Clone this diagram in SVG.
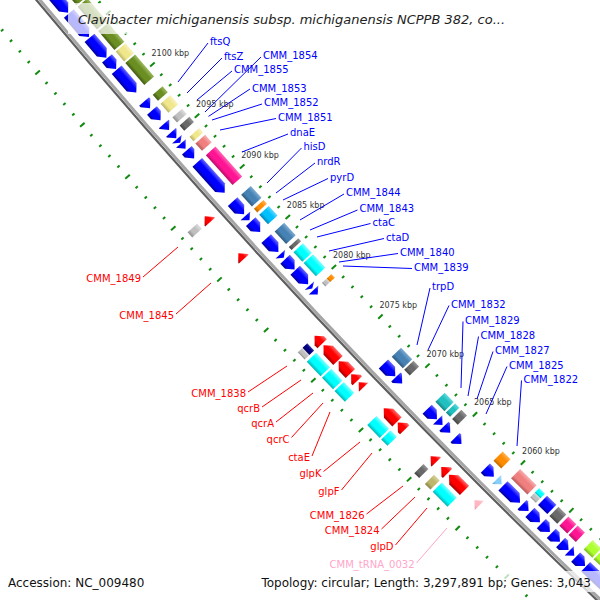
<svg xmlns="http://www.w3.org/2000/svg" xmlns:xlink="http://www.w3.org/1999/xlink" width="600" height="600" viewBox="0 0 600 600">
<defs>
<style>
text{font-family:'DejaVu Sans','Liberation Sans',sans-serif}
.lb{font-size:10px;fill:#0000ff}
.lr{font-size:10px;fill:#ff0000;text-anchor:end}
.lp{font-size:10px;fill:#ffa6c9;text-anchor:end}
.kb{font-size:8px;fill:#333}
.cb{stroke:#0000ff;stroke-width:1;fill:none}
.cr{stroke:#ff0000;stroke-width:1;fill:none}
.cp{stroke:#ffa6c9;stroke-width:1;fill:none}
.tk{fill:#108a10}
.B{fill:url(#gB)}.R{fill:url(#gR)}.Ol{fill:url(#gOl)}.Kh{fill:url(#gKh)}.Lg{fill:url(#gLg)}.Dg{fill:url(#gDg)}
.Sa{fill:url(#gSa)}.Mg{fill:url(#gMg)}.Sb{fill:url(#gSb)}.Or{fill:url(#gOr)}.Ds{fill:url(#gDs)}.Cy{fill:url(#gCy)}
.Nv{fill:url(#gNv)}.Tl{fill:url(#gTl)}.Gy{fill:url(#gGy)}.Dk{fill:url(#gDk)}.Sk{fill:url(#gSk)}.Pk{fill:url(#gPk)}
</style>
<linearGradient id="gB" x1="0" y1="0" x2="0" y2="1"><stop offset="0" stop-color="#00009a"/><stop offset=".3" stop-color="#0000ff"/><stop offset=".65" stop-color="#0000ff"/><stop offset="1" stop-color="#6a6aff"/></linearGradient>
<linearGradient id="gR" x1="0" y1="0" x2="0" y2="1"><stop offset="0" stop-color="#a00000"/><stop offset=".3" stop-color="#ff0000"/><stop offset=".65" stop-color="#ff0000"/><stop offset="1" stop-color="#ff6a6a"/></linearGradient>
<linearGradient id="gOl" x1="0" y1="0" x2="0" y2="1"><stop offset="0" stop-color="#435a15"/><stop offset=".3" stop-color="#6b8e23"/><stop offset=".65" stop-color="#6b8e23"/><stop offset="1" stop-color="#9cba62"/></linearGradient>
<linearGradient id="gKh" x1="0" y1="0" x2="0" y2="1"><stop offset="0" stop-color="#bcb466"/><stop offset=".3" stop-color="#f0e68c"/><stop offset=".65" stop-color="#f0e68c"/><stop offset="1" stop-color="#f8f2c0"/></linearGradient>
<linearGradient id="gLg" x1="0" y1="0" x2="0" y2="1"><stop offset="0" stop-color="#8e8e8e"/><stop offset=".3" stop-color="#c0c0c0"/><stop offset=".65" stop-color="#c0c0c0"/><stop offset="1" stop-color="#e0e0e0"/></linearGradient>
<linearGradient id="gDg" x1="0" y1="0" x2="0" y2="1"><stop offset="0" stop-color="#444"/><stop offset=".3" stop-color="#696969"/><stop offset=".65" stop-color="#696969"/><stop offset="1" stop-color="#969696"/></linearGradient>
<linearGradient id="gSa" x1="0" y1="0" x2="0" y2="1"><stop offset="0" stop-color="#b85a5a"/><stop offset=".3" stop-color="#f08080"/><stop offset=".65" stop-color="#f08080"/><stop offset="1" stop-color="#f7b0b0"/></linearGradient>
<linearGradient id="gMg" x1="0" y1="0" x2="0" y2="1"><stop offset="0" stop-color="#b80e6a"/><stop offset=".3" stop-color="#ff1493"/><stop offset=".65" stop-color="#ff1493"/><stop offset="1" stop-color="#ff66b5"/></linearGradient>
<linearGradient id="gSb" x1="0" y1="0" x2="0" y2="1"><stop offset="0" stop-color="#2f5a7e"/><stop offset=".3" stop-color="#4682b4"/><stop offset=".65" stop-color="#4682b4"/><stop offset="1" stop-color="#80abd0"/></linearGradient>
<linearGradient id="gOr" x1="0" y1="0" x2="0" y2="1"><stop offset="0" stop-color="#c06800"/><stop offset=".3" stop-color="#ff8c00"/><stop offset=".65" stop-color="#ff8c00"/><stop offset="1" stop-color="#ffb050"/></linearGradient>
<linearGradient id="gDs" x1="0" y1="0" x2="0" y2="1"><stop offset="0" stop-color="#0088b8"/><stop offset=".3" stop-color="#00bfff"/><stop offset=".65" stop-color="#00bfff"/><stop offset="1" stop-color="#60d8ff"/></linearGradient>
<linearGradient id="gCy" x1="0" y1="0" x2="0" y2="1"><stop offset="0" stop-color="#00b4b4"/><stop offset=".3" stop-color="#00ffff"/><stop offset=".65" stop-color="#00ffff"/><stop offset="1" stop-color="#80ffff"/></linearGradient>
<linearGradient id="gNv" x1="0" y1="0" x2="0" y2="1"><stop offset="0" stop-color="#000058"/><stop offset=".3" stop-color="#000080"/><stop offset=".65" stop-color="#000080"/><stop offset="1" stop-color="#3838a8"/></linearGradient>
<linearGradient id="gTl" x1="0" y1="0" x2="0" y2="1"><stop offset="0" stop-color="#148484"/><stop offset=".3" stop-color="#20c0c0"/><stop offset=".65" stop-color="#20c0c0"/><stop offset="1" stop-color="#62d8d8"/></linearGradient>
<linearGradient id="gGy" x1="0" y1="0" x2="0" y2="1"><stop offset="0" stop-color="#7cb820"/><stop offset=".3" stop-color="#adff2f"/><stop offset=".65" stop-color="#adff2f"/><stop offset="1" stop-color="#ccff78"/></linearGradient>
<linearGradient id="gDk" x1="0" y1="0" x2="0" y2="1"><stop offset="0" stop-color="#8a854c"/><stop offset=".3" stop-color="#bdb76b"/><stop offset=".65" stop-color="#bdb76b"/><stop offset="1" stop-color="#d6d2a0"/></linearGradient>
<linearGradient id="gSk" x1="0" y1="0" x2="0" y2="1"><stop offset="0" stop-color="#55a0d0"/><stop offset=".3" stop-color="#87cefa"/><stop offset=".65" stop-color="#87cefa"/><stop offset="1" stop-color="#b8e4ff"/></linearGradient>
<linearGradient id="gPk" x1="0" y1="0" x2="0" y2="1"><stop offset="0" stop-color="#e08aa2"/><stop offset=".3" stop-color="#ffb6c1"/><stop offset=".65" stop-color="#ffb6c1"/><stop offset="1" stop-color="#ffd6de"/></linearGradient>
<rect id="di" x="-1" y="-7139.5" width="2" height="3"/>
<rect id="Di" x="-1" y="-7141" width="2" height="6"/>
<rect id="do" x="-1" y="-7232" width="2" height="3"/>
<rect id="Do" x="-1" y="-7233.5" width="2" height="6"/>
</defs>
<rect width="600" height="600" fill="#fff"/>

<g id="ruler" class="tk" transform="translate(5559,-4596)">
<use href="#Di" transform="rotate(223.7808)"/><use href="#di" transform="rotate(223.8899)"/><use href="#di" transform="rotate(223.9991)"/><use href="#di" transform="rotate(224.1083)"/><use href="#di" transform="rotate(224.2174)"/>
<use href="#Di" transform="rotate(224.3266)"/><use href="#di" transform="rotate(224.4357)"/><use href="#di" transform="rotate(224.5449)"/><use href="#di" transform="rotate(224.6541)"/><use href="#di" transform="rotate(224.7632)"/>
<use href="#Di" transform="rotate(224.8724)"/><use href="#di" transform="rotate(224.9816)"/><use href="#di" transform="rotate(225.0907)"/><use href="#di" transform="rotate(225.1999)"/><use href="#di" transform="rotate(225.3090)"/>
<use href="#Di" transform="rotate(225.4182)"/><use href="#di" transform="rotate(225.5274)"/><use href="#di" transform="rotate(225.6365)"/><use href="#di" transform="rotate(225.7457)"/><use href="#di" transform="rotate(225.8549)"/>
<use href="#Di" transform="rotate(225.9640)"/><use href="#di" transform="rotate(226.0732)"/><use href="#di" transform="rotate(226.1823)"/><use href="#di" transform="rotate(226.2915)"/><use href="#di" transform="rotate(226.4007)"/>
<use href="#Di" transform="rotate(226.5098)"/><use href="#di" transform="rotate(226.6190)"/><use href="#di" transform="rotate(226.7282)"/><use href="#di" transform="rotate(226.8373)"/><use href="#di" transform="rotate(226.9465)"/>
<use href="#Di" transform="rotate(227.0556)"/><use href="#di" transform="rotate(227.1648)"/><use href="#di" transform="rotate(227.2740)"/><use href="#di" transform="rotate(227.3831)"/><use href="#di" transform="rotate(227.4923)"/>
<use href="#Di" transform="rotate(227.6015)"/><use href="#di" transform="rotate(227.7106)"/><use href="#di" transform="rotate(227.8198)"/><use href="#di" transform="rotate(227.9289)"/><use href="#di" transform="rotate(228.0381)"/>
<use href="#Di" transform="rotate(228.1473)"/><use href="#di" transform="rotate(228.2564)"/><use href="#di" transform="rotate(228.3656)"/><use href="#di" transform="rotate(228.4748)"/><use href="#di" transform="rotate(228.5839)"/>
<use href="#Di" transform="rotate(228.6931)"/><use href="#di" transform="rotate(228.8022)"/><use href="#di" transform="rotate(228.9114)"/><use href="#di" transform="rotate(229.0206)"/><use href="#di" transform="rotate(229.1297)"/>
<use href="#Di" transform="rotate(229.2389)"/><use href="#di" transform="rotate(229.3481)"/><use href="#di" transform="rotate(229.4572)"/><use href="#di" transform="rotate(229.5664)"/><use href="#di" transform="rotate(229.6755)"/>
<use href="#Di" transform="rotate(229.7847)"/><use href="#di" transform="rotate(229.8939)"/><use href="#di" transform="rotate(230.0030)"/><use href="#di" transform="rotate(230.1122)"/>
<use href="#Do" transform="rotate(223.7808)"/><use href="#do" transform="rotate(223.8899)"/><use href="#do" transform="rotate(223.9991)"/><use href="#do" transform="rotate(224.1083)"/><use href="#do" transform="rotate(224.2174)"/>
<use href="#Do" transform="rotate(224.3266)"/><use href="#do" transform="rotate(224.4357)"/><use href="#do" transform="rotate(224.5449)"/><use href="#do" transform="rotate(224.6541)"/><use href="#do" transform="rotate(224.7632)"/>
<use href="#Do" transform="rotate(224.8724)"/><use href="#do" transform="rotate(224.9816)"/><use href="#do" transform="rotate(225.0907)"/><use href="#do" transform="rotate(225.1999)"/><use href="#do" transform="rotate(225.3090)"/>
<use href="#Do" transform="rotate(225.4182)"/><use href="#do" transform="rotate(225.5274)"/><use href="#do" transform="rotate(225.6365)"/><use href="#do" transform="rotate(225.7457)"/><use href="#do" transform="rotate(225.8549)"/>
<use href="#Do" transform="rotate(225.9640)"/><use href="#do" transform="rotate(226.0732)"/><use href="#do" transform="rotate(226.1823)"/><use href="#do" transform="rotate(226.2915)"/><use href="#do" transform="rotate(226.4007)"/>
<use href="#Do" transform="rotate(226.5098)"/><use href="#do" transform="rotate(226.6190)"/><use href="#do" transform="rotate(226.7282)"/><use href="#do" transform="rotate(226.8373)"/><use href="#do" transform="rotate(226.9465)"/>
<use href="#Do" transform="rotate(227.0556)"/><use href="#do" transform="rotate(227.1648)"/><use href="#do" transform="rotate(227.2740)"/><use href="#do" transform="rotate(227.3831)"/><use href="#do" transform="rotate(227.4923)"/>
<use href="#Do" transform="rotate(227.6015)"/><use href="#do" transform="rotate(227.7106)"/><use href="#do" transform="rotate(227.8198)"/><use href="#do" transform="rotate(227.9289)"/><use href="#do" transform="rotate(228.0381)"/>
<use href="#Do" transform="rotate(228.1473)"/><use href="#do" transform="rotate(228.2564)"/><use href="#do" transform="rotate(228.3656)"/><use href="#do" transform="rotate(228.4748)"/><use href="#do" transform="rotate(228.5839)"/>
<use href="#Do" transform="rotate(228.6931)"/><use href="#do" transform="rotate(228.8022)"/><use href="#do" transform="rotate(228.9114)"/><use href="#do" transform="rotate(229.0206)"/><use href="#do" transform="rotate(229.1297)"/>
<use href="#Do" transform="rotate(229.2389)"/><use href="#do" transform="rotate(229.3481)"/><use href="#do" transform="rotate(229.4572)"/><use href="#do" transform="rotate(229.5664)"/><use href="#do" transform="rotate(229.6755)"/>
<use href="#Do" transform="rotate(229.7847)"/><use href="#do" transform="rotate(229.8939)"/><use href="#do" transform="rotate(230.0030)"/><use href="#do" transform="rotate(230.1122)"/><use href="#do" transform="rotate(230.2213)"/>
<use href="#Do" transform="rotate(230.3305)"/><use href="#do" transform="rotate(230.4397)"/><use href="#do" transform="rotate(230.5488)"/>
</g>

<g id="backbone" transform="translate(5559,-4596)" fill="none">
<circle r="7184.8" stroke="#5e5e5e" stroke-width="2.2"/>
<circle r="7182" stroke="#a6a6a6" stroke-width="3"/>
</g>

<g id="features" transform="translate(5559,-4596)">
<path class="B" transform="rotate(229.9909)" d="M0,-7168.5L7,-7175H52V-7162H7Z"/>
<path class="B" transform="rotate(229.7357)" d="M0,-7168.5L7,-7175H31V-7162H7Z"/>
<path class="B" transform="rotate(229.5203)" d="M0,-7168.5L7,-7175H26V-7162H7Z"/>
<path class="B" transform="rotate(229.4007)" d="M0,-7168.5L7,-7175H14V-7162H7Z"/>
<path class="B" transform="rotate(229.1534)" d="M0,-7168.5L7,-7175H30V-7162H7Z"/>
<path class="B" transform="rotate(228.9859)" d="M0,-7168.5L7,-7175H9V-7162H7Z"/>
<path class="B" transform="rotate(228.8583)" d="M0,-7168.5L7,-7175H13V-7162H7Z"/>
<path class="B" transform="rotate(228.7546)" d="M0,-7168.5L7,-7175H8V-7162H7Z"/>
<path class="B" transform="rotate(228.6668)" d="M0,-7168.5L7,-7175H8V-7162H7Z"/>
<path class="B" transform="rotate(228.6190)" d="M0,-7168.5L5,-7175V-7162Z"/>
<path class="B" transform="rotate(228.5552)" d="M0,-7168.5L7,-7175V-7162Z"/>
<path class="B" transform="rotate(228.4515)" d="M0,-7168.5L7,-7175H11V-7162H7Z"/>
<path class="B" transform="rotate(228.0846)" d="M0,-7168.5L7,-7175H41V-7162H7Z"/>
<path class="B" transform="rotate(227.8532)" d="M0,-7168.5L7,-7175H17V-7162H7Z"/>
<path class="B" transform="rotate(227.7894)" d="M0,-7168.5L6,-7175V-7162Z"/>
<path class="B" transform="rotate(227.6618)" d="M0,-7168.5L7,-7175H14V-7162H7Z"/>
<path class="B" transform="rotate(227.4464)" d="M0,-7168.5L7,-7175H18V-7162H7Z"/>
<path class="B" transform="rotate(227.3826)" d="M0,-7168.5L5,-7175V-7162Z"/>
<path class="B" transform="rotate(227.2550)" d="M0,-7168.5L7,-7175H14V-7162H7Z"/>
<path class="B" transform="rotate(227.0955)" d="M0,-7168.5L7,-7175H19V-7162H7Z"/>
<path class="B" transform="rotate(227.0476)" d="M0,-7168.5L4,-7175V-7162Z"/>
<path class="B" transform="rotate(226.9838)" d="M0,-7168.5L6,-7175V-7162Z"/>
<path class="B" transform="rotate(226.0825)" d="M0,-7168.5L7,-7175H17V-7162H7Z"/>
<path class="B" transform="rotate(226.0027)" d="M0,-7168.5L7,-7175H9V-7162H7Z"/>
<path class="B" transform="rotate(225.6039)" d="M0,-7168.5L7,-7175H14V-7162H7Z"/>
<path class="B" transform="rotate(225.5401)" d="M0,-7168.5L7,-7175V-7162Z"/>
<path class="B" transform="rotate(225.4523)" d="M0,-7168.5L7,-7175H9V-7162H7Z"/>
<path class="B" transform="rotate(225.3247)" d="M0,-7168.5L7,-7175H9V-7162H7Z"/>
<path class="B" transform="rotate(224.9578)" d="M0,-7168.5L7,-7175H12V-7162H7Z"/>
<path class="Sk" transform="rotate(224.8701)" d="M0,-7168.5L7,-7175V-7162Z"/>
<path class="B" transform="rotate(224.6627)" d="M0,-7168.5L7,-7175H24V-7162H7Z"/>
<path class="B" transform="rotate(224.5670)" d="M0,-7168.5L7,-7175H9V-7162H7Z"/>
<path class="B" transform="rotate(224.4393)" d="M0,-7168.5L7,-7175H14V-7162H7Z"/>
<path class="B" transform="rotate(224.3277)" d="M0,-7168.5L7,-7175H12V-7162H7Z"/>
<path class="B" transform="rotate(224.2160)" d="M0,-7168.5L7,-7175H12V-7162H7Z"/>
<path class="B" transform="rotate(224.1203)" d="M0,-7168.5L7,-7175H11V-7162H7Z"/>
<path class="B" transform="rotate(224.0565)" d="M0,-7168.5L7,-7175V-7162Z"/>
<path class="B" transform="rotate(223.9368)" d="M0,-7168.5L7,-7175H13V-7162H7Z"/>
<path class="B" transform="rotate(223.6257)" d="M0,-7168.5L7,-7175H38V-7162H7Z"/>

<path class="Ol" transform="rotate(229.9909)" d="M0.5,-7157.5H51.5V-7144.5H0.5Z"/>
<path class="Ol" transform="rotate(229.7357)" d="M0.5,-7157.5H30.5V-7144.5H0.5Z"/>
<path class="Ol" transform="rotate(229.5203)" d="M0.5,-7157.5H25.5V-7144.5H0.5Z"/>
<path class="Kh" transform="rotate(229.4007)" d="M0.5,-7157.5H13.5V-7144.5H0.5Z"/>
<path class="Ol" transform="rotate(229.1534)" d="M0.5,-7157.5H29.5V-7144.5H0.5Z"/>
<path class="Ol" transform="rotate(228.9859)" d="M0.5,-7157.5H8.5V-7144.5H0.5Z"/>
<path class="Kh" transform="rotate(228.8583)" d="M0.5,-7157.5H12.5V-7144.5H0.5Z"/>
<path class="Lg" transform="rotate(228.7546)" d="M0.5,-7157.5H7.5V-7144.5H0.5Z"/>
<path class="Dg" transform="rotate(228.6668)" d="M0.5,-7157.5H7.5V-7144.5H0.5Z"/>
<path class="Kh" transform="rotate(228.5552)" d="M0.5,-7157.5H6.5V-7144.5H0.5Z"/>
<path class="Sa" transform="rotate(228.4515)" d="M0.5,-7157.5H10.5V-7144.5H0.5Z"/>
<path class="Mg" transform="rotate(228.0846)" d="M0.5,-7157.5H40.5V-7144.5H0.5Z"/>
<path class="Sb" transform="rotate(227.8532)" d="M0.5,-7157.5H16.5V-7144.5H0.5Z"/>
<path class="Or" transform="rotate(227.7894)" d="M0.5,-7157.5H5.5V-7144.5H0.5Z"/>
<path class="Ds" transform="rotate(227.6618)" d="M0.5,-7157.5H13.5V-7144.5H0.5Z"/>
<path class="Sb" transform="rotate(227.4464)" d="M0.5,-7157.5H17.5V-7144.5H0.5Z"/>
<path class="Dg" transform="rotate(227.3826)" d="M0.5,-7157.5H4.5V-7144.5H0.5Z"/>
<path class="Cy" transform="rotate(227.2550)" d="M0.5,-7157.5H13.5V-7144.5H0.5Z"/>
<path class="Cy" transform="rotate(227.0955)" d="M0.5,-7157.5H18.5V-7144.5H0.5Z"/>
<path class="Lg" transform="rotate(226.9838)" d="M0.5,-7157.5H5.5V-7151H0.5Z"/>
<path class="Or" transform="rotate(226.9838)" d="M0.5,-7151H5.5V-7144.5H0.5Z"/>
<path class="Sb" transform="rotate(226.0825)" d="M0.5,-7157.5H16.5V-7144.5H0.5Z"/>
<path class="Dg" transform="rotate(226.0027)" d="M0.5,-7157.5H8.5V-7144.5H0.5Z"/>
<path class="Tl" transform="rotate(225.6039)" d="M0.5,-7157.5H13.5V-7144.5H0.5Z"/>
<path class="Tl" transform="rotate(225.5401)" d="M0.5,-7157.5H6.5V-7144.5H0.5Z"/>
<path class="Dg" transform="rotate(225.4523)" d="M0.5,-7157.5H8.5V-7144.5H0.5Z"/>
<path class="Or" transform="rotate(224.9578)" d="M0.5,-7157.5H11.5V-7144.5H0.5Z"/>
<path class="Sa" transform="rotate(224.6627)" d="M0.5,-7157.5H23.5V-7144.5H0.5Z"/>
<path class="Lg" transform="rotate(224.5670)" d="M0.5,-7157.5H8.5V-7151H0.5Z"/>
<path class="Cy" transform="rotate(224.5670)" d="M0.5,-7151H8.5V-7144.5H0.5Z"/>
<path class="B" transform="rotate(224.4393)" d="M0.5,-7157.5H13.5V-7144.5H0.5Z"/>
<path class="Dg" transform="rotate(224.3277)" d="M0.5,-7157.5H11.5V-7144.5H0.5Z"/>
<path class="Mg" transform="rotate(224.2160)" d="M0.5,-7157.5H11.5V-7144.5H0.5Z"/>
<path class="Mg" transform="rotate(224.1203)" d="M0.5,-7157.5H10.5V-7144.5H0.5Z"/>
<path class="Gy" transform="rotate(223.9368)" d="M0.5,-7157.5H12.5V-7144.5H0.5Z"/>
<path class="Gy" transform="rotate(223.6257)" d="M0.5,-7157.5H37.5V-7144.5H0.5Z"/>

<path class="R" transform="rotate(227.9888)" d="M8,-7199L1,-7205.5H0V-7192.5H1Z"/>
<path class="R" transform="rotate(227.5900)" d="M8,-7199L1,-7205.5H0V-7192.5H1Z"/>
<path class="R" transform="rotate(226.6727)" d="M11,-7199L4,-7205.5H0V-7192.5H4Z"/>
<path class="R" transform="rotate(226.4893)" d="M21,-7199L14,-7205.5H0V-7192.5H14Z"/>
<path class="R" transform="rotate(226.3457)" d="M17,-7199L10,-7205.5H0V-7192.5H10Z"/>
<path class="R" transform="rotate(226.2659)" d="M9,-7199L2,-7205.5H0V-7192.5H2Z"/>
<path class="R" transform="rotate(226.1941)" d="M7,-7199L0,-7205.5V-7192.5Z"/>
<path class="R" transform="rotate(225.8113)" d="M19,-7199L12,-7205.5H0V-7192.5H12Z"/>
<path class="R" transform="rotate(225.7235)" d="M10,-7199L3,-7205.5H0V-7192.5H3Z"/>
<path class="R" transform="rotate(225.3646)" d="M8,-7199L1,-7205.5H0V-7192.5H1Z"/>
<path class="R" transform="rotate(225.2370)" d="M9,-7199L2,-7205.5H0V-7192.5H2Z"/>
<path class="R" transform="rotate(225.0455)" d="M22,-7199L15,-7205.5H0V-7192.5H15Z"/>
<path class="Pk" transform="rotate(224.8781)" d="M7,-7199L0,-7205.5V-7192.5Z"/>

<path class="Lg" transform="rotate(227.9888)" d="M0.5,-7222.5H7.5V-7209.5H0.5Z"/>
<path class="Lg" transform="rotate(226.6727)" d="M0.5,-7222.5H10.5V-7216H0.5Z"/>
<path class="Nv" transform="rotate(226.6727)" d="M0.5,-7216H10.5V-7209.5H0.5Z"/>
<path class="Cy" transform="rotate(226.4893)" d="M0.5,-7222.5H20.5V-7209.5H0.5Z"/>
<path class="Cy" transform="rotate(226.3457)" d="M0.5,-7222.5H16.5V-7209.5H0.5Z"/>
<path class="Cy" transform="rotate(226.2101)" d="M0.5,-7222.5H15.5V-7209.5H0.5Z"/>
<path class="Cy" transform="rotate(225.8113)" d="M0.5,-7222.5H18.5V-7209.5H0.5Z"/>
<path class="Cy" transform="rotate(225.7235)" d="M0.5,-7222.5H9.5V-7209.5H0.5Z"/>
<path class="Dg" transform="rotate(225.3646)" d="M0.5,-7222.5H7.5V-7209.5H0.5Z"/>
<path class="Dk" transform="rotate(225.2370)" d="M0.5,-7222.5H8.5V-7209.5H0.5Z"/>
<path class="Cy" transform="rotate(225.0455)" d="M0.5,-7222.5H21.5V-7209.5H0.5Z"/>
</g>

<g id="kbp-labels" class="kb">
<text x="151.5" y="55.5">2100 kbp</text>
<text x="196" y="106.6">2095 kbp</text>
<text x="241.2" y="157.6">2090 kbp</text>
<text x="286.8" y="208.1">2085 kbp</text>
<text x="333" y="258">2080 kbp</text>
<text x="379.4" y="307.6">2075 kbp</text>
<text x="426.5" y="356.7">2070 kbp</text>
<text x="474" y="405.4">2065 kbp</text>
<text x="522.1" y="453.7">2060 kbp</text>
</g>

<g id="connectors">
<path class="cb" d="M208,43L178,82M222,58L187,93M232,71L197,100M261,57L205,112M250,89L208.5,116.4M262,104L212,120M276,118.5L220,130M288,134L242,152M301.5,148L267,183M315,163L276,193M328,178.5L283,200M344,194L300,220M357.5,210L310,230M370.5,223.5L317,237M384,238.5L329,251M398,253.5L339,262M412,268.5L343,266M430,288L417,345M449,305.5L428,350M463,321.5L461,388M478.5,336.5L468,396M493,351.5L477,399M507,366.5L486,414M521.5,380.5L517,446"/>
<path class="cr" d="M143,277L178,247M176,314L211,283M248,392L287,366M262,407L301,380M276,422L313,393M291.5,437.5L323,403M312,456L330,412M323.5,471.5L360,442M341.5,490L372,453M366.5,514L403,486M381.5,529L415,497M395.5,545L427,508"/>
<path class="cp" d="M416.5,563L447,528"/>
</g>

<g id="labels-reverse" class="lb">
<text x="210" y="45">ftsQ</text>
<text x="224" y="60">ftsZ</text>
<text x="263" y="59">CMM_1854</text>
<text x="234" y="73">CMM_1855</text>
<text x="252" y="91.5">CMM_1853</text>
<text x="264" y="106">CMM_1852</text>
<text x="278" y="120.5">CMM_1851</text>
<text x="290" y="136">dnaE</text>
<text x="303.5" y="150">hisD</text>
<text x="317" y="165">nrdR</text>
<text x="330" y="180.5">pyrD</text>
<text x="346" y="196">CMM_1844</text>
<text x="359.5" y="212">CMM_1843</text>
<text x="372.5" y="225.5">ctaC</text>
<text x="386" y="240.5">ctaD</text>
<text x="400" y="255.5">CMM_1840</text>
<text x="414" y="270.5">CMM_1839</text>
<text x="432" y="290">trpD</text>
<text x="451" y="307.5">CMM_1832</text>
<text x="465" y="323.5">CMM_1829</text>
<text x="480.5" y="338.5">CMM_1828</text>
<text x="495" y="353.5">CMM_1827</text>
<text x="509" y="368.5">CMM_1825</text>
<text x="523.5" y="382.5">CMM_1822</text>
</g>
<g id="labels-forward" class="lr">
<text x="141" y="282">CMM_1849</text>
<text x="174" y="319">CMM_1845</text>
<text x="246" y="397">CMM_1838</text>
<text x="260" y="412">qcrB</text>
<text x="274" y="427">qcrA</text>
<text x="289.5" y="442.5">qcrC</text>
<text x="310" y="461">ctaE</text>
<text x="321.5" y="476.5">glpK</text>
<text x="339.5" y="495">glpF</text>
<text x="364.5" y="519">CMM_1826</text>
<text x="379.5" y="534">CMM_1824</text>
<text x="393.5" y="550">glpD</text>
</g>
<text class="lp" x="414.5" y="568">CMM_tRNA_0032</text>

<g id="title">
<rect x="68" y="3" width="449" height="31" fill="#fff" fill-opacity="0.72"/>
<text x="78" y="23.5" font-size="13" font-style="italic" fill="#222">Clavibacter michiganensis subsp. michiganensis NCPPB 382, co...</text>
</g>
<g id="footer" font-size="12" fill="#111">
<rect x="255" y="571" width="345" height="21" fill="#fff" fill-opacity="0.72"/>
<text x="8" y="587">Accession: NC_009480</text>
<text x="591" y="587" text-anchor="end">Topology: circular; Length: 3,297,891 bp; Genes: 3,043</text>
</g>
</svg>
